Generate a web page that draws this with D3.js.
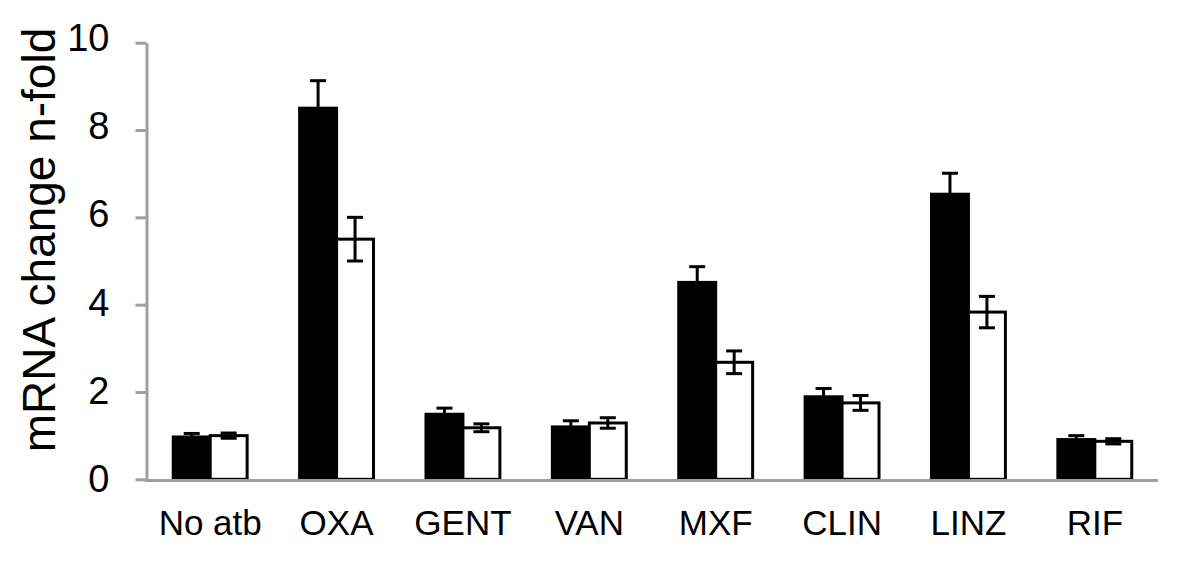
<!DOCTYPE html>
<html>
<head>
<meta charset="utf-8">
<script src="https://cdn.jsdelivr.net/npm/d3@7/dist/d3.min.js"></script>
<style>
  html, body { margin: 0; padding: 0; background: #fff; }
  svg { display: block; font-family: Arial, "Liberation Sans", sans-serif; }
</style>
</head>
<body>
<svg id="chart" width="1200" height="563"></svg>
<script>
(function () {
  // values
  const categories = ['No atb', 'OXA', 'GENT', 'VAN', 'MXF', 'CLIN', 'LINZ', 'RIF'];
  const blackValues = [0.97, 8.50, 1.49, 1.20, 4.51, 1.89, 6.53, 0.91];
  const blackErrors = [0.08, 0.63, 0.14, 0.14, 0.36, 0.19, 0.48, 0.09];
  const whiteValues = [1.00, 5.50, 1.18, 1.29, 2.68, 1.75, 3.83, 0.87];
  const whiteErrors = [0.06, 0.50, 0.09, 0.12, 0.26, 0.17, 0.36, 0.06];
  const yTicks = [0, 2, 4, 6, 8, 10];
  const series = ['black', 'white'];

  const axisColor = '#a0a0a0';
  const svg = d3.select('#chart');

  const x = d3.scaleBand().domain(categories).range([147, 1158]).paddingInner(0).paddingOuter(0);
  const xs = d3.scaleBand().domain(series).range([0, x.bandwidth()]).paddingInner(0).paddingOuter(0.71);
  const y = d3.scaleLinear().domain([0, 10]).range([479.3, 42.7]);

  const rows = [];
  categories.forEach((c, i) => {
    rows.push({ cat: c, s: 'black', v: blackValues[i], e: blackErrors[i] });
    rows.push({ cat: c, s: 'white', v: whiteValues[i], e: whiteErrors[i] });
  });

  // bars
  svg.append('g').selectAll('rect')
    .data(rows)
    .join('rect')
    .attr('x', d => x(d.cat) + xs(d.s))
    .attr('y', d => y(d.v))
    .attr('width', xs.bandwidth())
    .attr('height', d => y(0) - y(d.v))
    .attr('fill', d => d.s === 'black' ? '#000' : '#fff')
    .attr('stroke', '#000')
    .attr('stroke-width', 3);

  // error bars
  const eb = svg.append('g').attr('stroke', '#000').attr('stroke-width', 3)
    .selectAll('g').data(rows).join('g')
    .attr('transform', d => `translate(${x(d.cat) + xs(d.s) + xs.bandwidth() / 2},0)`);
  eb.append('line')
    .attr('y1', d => y(d.v - d.e)).attr('y2', d => y(d.v + d.e));
  eb.append('line')
    .attr('x1', -8).attr('x2', 8)
    .attr('y1', d => y(d.v + d.e)).attr('y2', d => y(d.v + d.e));
  eb.append('line')
    .attr('x1', -8).attr('x2', 8)
    .attr('y1', d => y(d.v - d.e)).attr('y2', d => y(d.v - d.e))
    .attr('stroke', d => d.s === 'black' ? 'none' : '#000');

  // y axis
  const yAxis = svg.append('g')
    .attr('transform', 'translate(146.5,0)')
    .call(d3.axisLeft(y).tickValues(yTicks).tickSize(11).tickPadding(26).tickSizeOuter(0));
  yAxis.select('.domain').attr('stroke', axisColor).attr('stroke-width', 3);
  yAxis.selectAll('.tick line').attr('stroke', axisColor).attr('stroke-width', 3);
  yAxis.selectAll('.tick text')
    .attr('fill', '#000')
    .attr('font-size', 38)
    .attr('font-family', 'Arial, "Liberation Sans", sans-serif')
    .attr('dy', d => (0.32 + d * -0.012) + 'em');

  // x axis
  const xAxis = svg.append('g')
    .attr('transform', 'translate(0,480.5)')
    .call(d3.axisBottom(x).tickSize(0).tickPadding(30).tickSizeOuter(0));
  xAxis.select('.domain').attr('stroke', axisColor).attr('stroke-width', 3)
    .attr('d', 'M145,0H1158');
  xAxis.selectAll('.tick text')
    .attr('fill', '#000')
    .attr('font-size', 35)
    .attr('font-family', 'Arial, "Liberation Sans", sans-serif');

  // y title
  svg.append('text')
    .attr('transform', 'translate(55,240) rotate(-90)')
    .attr('text-anchor', 'middle')
    .attr('font-size', 46)
    .attr('fill', '#000')
    .text('mRNA change n-fold');
})();
</script>
</body>
</html>
